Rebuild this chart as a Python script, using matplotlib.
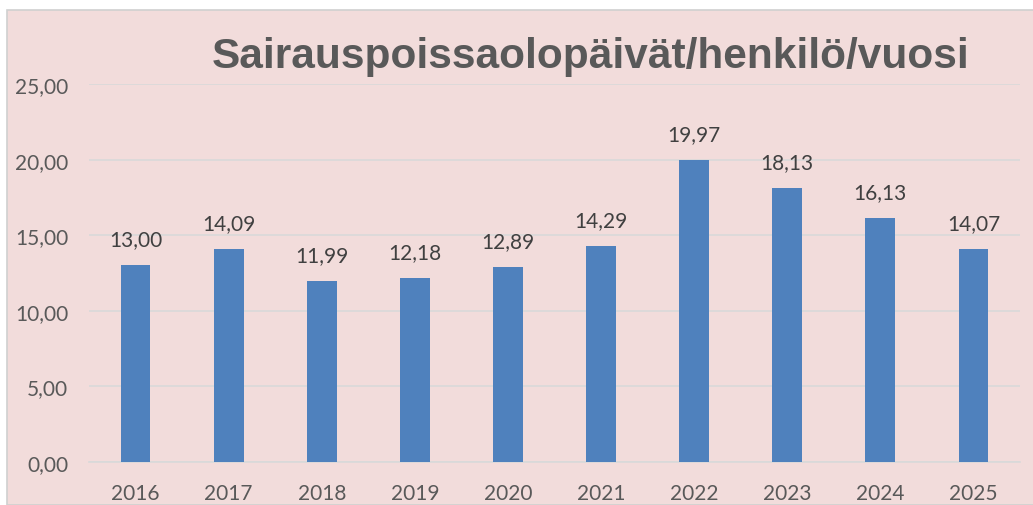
import matplotlib.pyplot as plt
from matplotlib.patches import Rectangle

# Data
years = ['2016', '2017', '2018', '2019', '2020', '2021', '2022', '2023', '2024', '2025']
days = [13.00, 14.09, 11.99, 12.18, 12.89, 14.29, 19.97, 18.13, 16.13, 14.07]
yticks = [0, 5, 10, 15, 20, 25]

pink = '#f2dcdb'
bar_color = '#4f81bd'
grid_color = '#d9d9d9'
txt = '#595959'


def fi(v):
    return f'{v:.2f}'.replace('.', ',')


fig = plt.figure(figsize=(10.33, 5.06), dpi=100)
fig.patch.set_facecolor('white')
# chart area background with thin border
fig.patches.append(Rectangle((7 / 1033, 0), 1.0, 1 - 11 / 506, transform=fig.transFigure,
                             facecolor=pink, edgecolor='#d0d0d0', linewidth=1.2, zorder=-10))

ax = fig.add_axes([89 / 1033, 43 / 506, 931 / 1033, 378 / 506])
ax.set_facecolor('none')

x = range(len(years))
ax.bar(x, days, width=0.32, color=bar_color, zorder=3)
for i, v in enumerate(days):
    ax.text(i, v + 1.05, fi(v), ha='center', va='bottom', fontsize=15,
            color='#404040', family='Lato')

ax.set_xlim(-0.5, len(years) - 0.5)
ax.set_ylim(0, 25)
ax.set_yticks(yticks)
ax.set_yticklabels([fi(v) for v in yticks], fontsize=15, color=txt, family='Lato')
ax.set_xticks(list(x))
ax.set_xticklabels(years, fontsize=15, color=txt, family='Lato')
ax.tick_params(length=0)
ax.tick_params(axis='y', pad=15)
ax.tick_params(axis='x', pad=15)
ax.grid(axis='y', color=grid_color, linewidth=1.2, zorder=0)
for s in ['top', 'right', 'left']:
    ax.spines[s].set_visible(False)
ax.spines['bottom'].set_color(grid_color)
ax.spines['bottom'].set_linewidth(1.2)

fig.text(591 / 1033, 1 - 57 / 506, 'Sairauspoissaolopäivät/henkilö/vuosi',
         ha='center', va='center', fontsize=30.5, fontweight='bold',
         color=txt, family='Liberation Sans')

fig.savefig('out.png', dpi=100)
